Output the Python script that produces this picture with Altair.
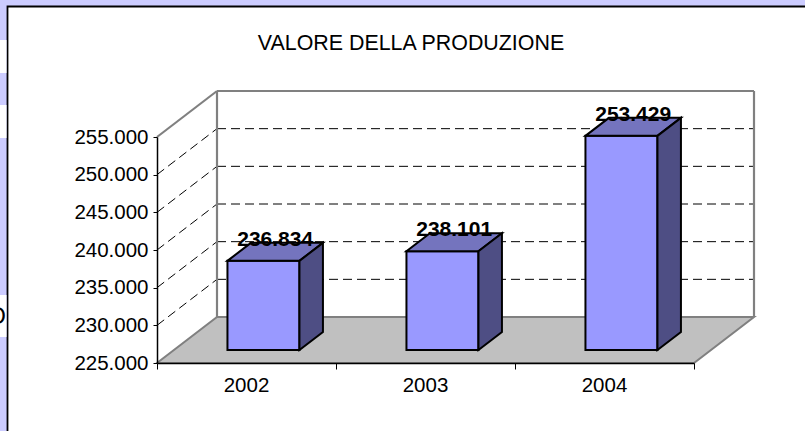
import altair as alt
import pandas as pd

# ---------------- data ----------------
years = ["2002", "2003", "2004"]
values = [236834, 238101, 253429]
y_ticks = [225000, 230000, 235000, 240000, 245000, 250000, 255000]
grid_values = [230000, 235000, 240000, 245000, 250000]
title_text = "VALORE DELLA PRODUZIONE"

# ---------------- geometry / style constants ----------------
Y_MIN, Y_MAX = 225000, 255000
N = len(years)
PLOT_W, PLOT_H = 537, 226
PAD_L, PAD_T = 157, 137
PAD = {"left": PAD_L, "top": PAD_T, "right": 805 - PAD_L - PLOT_W, "bottom": 431 - PAD_T - PLOT_H}
PX_X = PLOT_W / N
PX_Y = PLOT_H / (Y_MAX - Y_MIN)
DX = 60 / PX_X          # depth of the box, category units
DY = 46 / PX_Y          # depth of the box, value units
ZF, ZB = 13 / 46, 31 / 46  # front / back depth of the bars
HW = 36 / PX_X          # half width of bars
FONT = "Liberation Sans"
FS = 20.5

FRONT = "#9999FF"
TOP = "#7474BE"
SIDE = "#4E4E84"
FLOOR = "#C0C0C0"
WALL_EDGE = "#808080"

xs = alt.Scale(domain=[0, N], nice=False, zero=False)
ys = alt.Scale(domain=[Y_MIN, Y_MAX], nice=False, zero=False)

x_axis = alt.Axis(values=list(range(N + 1)), labels=False, ticks=True, tickSize=6,
                  tickColor="black", tickWidth=1, domainColor="black", domainWidth=1.5,
                  grid=False, title=None, zindex=1)
y_axis = alt.Axis(values=y_ticks, labelExpr="replace(format(datum.value, ',d'), ',', '.')",
                  labelFont=FONT, labelFontSize=FS, labelColor="black", labelPadding=5,
                  tickSize=4, tickColor="black", tickWidth=1, domainColor="black",
                  domainWidth=1.5, grid=False, title=None, zindex=1)


def X(f="x"):
    return alt.X(f"{f}:Q", scale=xs, axis=x_axis)


def Y(f="y"):
    return alt.Y(f"{f}:Q", scale=ys, axis=y_axis)


# ---------------- derived tables ----------------
floor = pd.DataFrame({
    "x": [0, DX, N, N + DX],
    "y": [Y_MIN, Y_MIN, Y_MIN, Y_MIN + DY],
    "y2": [Y_MIN, Y_MIN + DY, Y_MIN + DY, Y_MIN + DY],
})

edges = pd.DataFrame([
    {"x": 0, "y": Y_MAX, "x2": DX, "y2": Y_MAX + DY},
    {"x": DX, "y": Y_MIN + DY, "x2": DX, "y2": Y_MAX + DY},
    {"x": DX, "y": Y_MAX + DY, "x2": N + DX, "y2": Y_MAX + DY},
    {"x": N + DX, "y": Y_MIN + DY, "x2": N + DX, "y2": Y_MAX + DY},
])

grid_rows = []
for v in grid_values:
    grid_rows.append({"x": DX, "y": v + DY, "x2": N + DX, "y2": v + DY})
    grid_rows.append({"x": 0, "y": v, "x2": DX, "y2": v + DY})
grid = pd.DataFrame(grid_rows)

front_rows, top_rows, side_rows, label_rows, year_rows = [], [], [], [], []
for i, (yr, v) in enumerate(zip(years, values)):
    c = i + 0.5
    x1 = c - HW + ZF * DX
    x2 = c + HW + ZF * DX
    d = (ZB - ZF) * DX
    front_rows.append({"id": yr, "x": x1, "x2": x2, "y": Y_MIN + ZF * DY, "y2": v + ZF * DY})
    top_rows += [
        {"id": yr, "x": x1, "y": v + ZF * DY, "y2": v + ZF * DY},
        {"id": yr, "x": x1 + d, "y": v + ZF * DY, "y2": v + ZB * DY},
        {"id": yr, "x": x2, "y": v + ZF * DY, "y2": v + ZB * DY},
        {"id": yr, "x": x2 + d, "y": v + ZB * DY, "y2": v + ZB * DY},
    ]
    side_rows += [
        {"id": yr, "x": x2, "y": Y_MIN + ZF * DY, "y2": v + ZF * DY},
        {"id": yr, "x": x2 + d, "y": Y_MIN + ZB * DY, "y2": v + ZB * DY},
    ]
    label_rows.append({"x": c + (ZF + ZB) / 2 * DX, "y": v + (ZF + ZB) / 2 * DY,
                       "t": f"{v:,}".replace(",", ".")})
    year_rows.append({"x": c, "y": Y_MIN, "t": yr})

front = pd.DataFrame(front_rows)
top = pd.DataFrame(top_rows)
side = pd.DataFrame(side_rows)
labels = pd.DataFrame(label_rows)
year_df = pd.DataFrame(year_rows)
one = pd.DataFrame({"t": [title_text]})

# ---------------- decoration (surrounding sheet) ----------------
frame = alt.Chart(one).mark_rect(fill="white", stroke="black", strokeWidth=1.8).encode(
    x=alt.value(7.5 - PAD_L), x2=alt.value(1000), y=alt.value(6.5 - PAD_T), y2=alt.value(1000))
bands = [
    alt.Chart(one).mark_rect(fill="white").encode(
        x=alt.value(-PAD_L), x2=alt.value(6.5 - PAD_L), y=alt.value(a - PAD_T), y2=alt.value(b - PAD_T))
    for a, b in [(40, 73), (105, 138), (295, 337)]
]
glyph = alt.Chart(pd.DataFrame({"t": ["O"]})).mark_text(
    font=FONT, fontSize=24, align="right", baseline="middle", color="black").encode(
    x=alt.value(6 - PAD_L), y=alt.value(317 - PAD_T), text="t:N")
title = alt.Chart(one).mark_text(font=FONT, fontSize=21.4, align="center", baseline="middle",
                                 color="black").encode(
    x=alt.value(411 - PAD_L), y=alt.value(44 - PAD_T), text="t:N")

# ---------------- chart layers ----------------
floor_l = alt.Chart(floor).mark_area(fill=FLOOR, stroke=WALL_EDGE, strokeWidth=2,
                                     interpolate="linear").encode(x=X(), y=Y(), y2="y2:Q")
grid_l = alt.Chart(grid).mark_rule(color="black", strokeWidth=1, strokeDash=[9, 5]).encode(
    x=X(), y=Y(), x2="x2:Q", y2="y2:Q")
edges_l = alt.Chart(edges).mark_rule(color=WALL_EDGE, strokeWidth=2.2).encode(
    x=X(), y=Y(), x2="x2:Q", y2="y2:Q")
front_l = alt.Chart(front).mark_rect(fill=FRONT, stroke="black", strokeWidth=2).encode(
    x=X(), x2="x2:Q", y=Y(), y2="y2:Q")
top_l = alt.Chart(top).mark_area(fill=TOP, stroke="black", strokeWidth=2, interpolate="linear",
                                 strokeJoin="miter").encode(
    x=X(), y=Y(), y2="y2:Q", detail="id:N")
side_l = alt.Chart(side).mark_area(fill=SIDE, stroke="black", strokeWidth=2, interpolate="linear",
                                   strokeJoin="miter").encode(
    x=X(), y=Y(), y2="y2:Q", detail="id:N")
label_l = alt.Chart(labels).mark_text(font=FONT, fontSize=21, fontWeight="bold", color="black",
                                      align="center", baseline="middle", dy=-12).encode(
    x=X(), y=Y(), text="t:N")
year_l = alt.Chart(year_df).mark_text(font=FONT, fontSize=FS, color="black", align="center",
                                      baseline="middle", dy=23).encode(
    x=X(), y=Y(), text="t:N")

chart = alt.layer(
    frame, *bands, glyph, title,
    floor_l, grid_l, edges_l, front_l, top_l, side_l, label_l, year_l
).properties(
    width=PLOT_W, height=PLOT_H, padding=PAD,
    autosize=alt.AutoSizeParams(type="none"),
    background="#CCCCFF",
).configure_view(stroke=None)

chart.save("out.html", embed_options={"renderer": "svg", "actions": False})
